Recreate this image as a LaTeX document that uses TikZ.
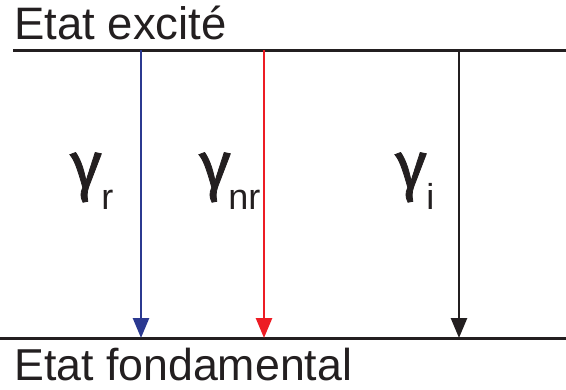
\documentclass[tikz,border=0pt]{standalone}
\usepackage{fontspec}
\setmainfont{Liberation Sans}
\newfontfamily\gammafont[FakeBold=1.2]{Fira Sans}
\usetikzlibrary{arrows.meta}
\definecolor{RadBlue}{HTML}{2B3990}
\definecolor{NonRadRed}{HTML}{ED1C24}
\definecolor{LevelBlack}{HTML}{231F20}

\begin{document}
\begin{tikzpicture}[
  x=1pt, y=-1pt,
  % --- levels and decay arrows ---
  level/.style={draw=LevelBlack, line width=3pt},
  decay/.style={line width=2.6pt, -{Triangle[length=20pt,width=16pt]}},
  lvltext/.style={anchor=base west, inner sep=0pt, text=LevelBlack, font=\fontsize{45.5}{45.5}\selectfont},
  rate/.style={anchor=base west, inner sep=0pt, text=LevelBlack, font=\gammafont\fontsize{66}{66}\selectfont},
  sub/.style={anchor=base west, inner sep=0pt, text=LevelBlack, font=\fontsize{36}{36}\selectfont},
]
\useasboundingbox (0,0) rectangle (566,389);

% =================== LEVELS ===================
\coordinate (exL) at (13,50);
\coordinate (exR) at (566,50);
\coordinate (gsL) at (0,338);
\coordinate (gsR) at (566,338);
\draw[level] (exL) -- (exR);
\draw[level] (gsL) -- (gsR);

\node[lvltext] (exT) at (14,39) {Etat excité};
\node[lvltext, font=\fontsize{44.7}{44.7}\selectfont] (gsT) at (14,380) {Etat fondamental};

% =================== DECAY CHANNELS ===================
\coordinate (rTop) at (141,50);   \coordinate (rBot) at (141,338);
\coordinate (nrTop) at (264,50);  \coordinate (nrBot) at (264,338);
\coordinate (iTop) at (459,50);   \coordinate (iBot) at (459,338);
\draw[decay, RadBlue] (rTop) -- (rBot);
\draw[decay, NonRadRed] (nrTop) -- (nrBot);
\draw[decay, LevelBlack] (iTop) -- (iBot);

% rates
\node[rate] (gR) at (70,188) {γ};
\node[sub] (gRs) at ([xshift=-1pt,yshift=-21pt]gR.base east) {r};
\node[rate] (gNR) at (199,188) {γ};
\node[sub] (gNRs) at ([xshift=-3pt,yshift=-21pt]gNR.base east) {nr};
\node[rate] (gI) at (395,188) {γ};
\node[sub] (gIs) at ([xshift=-1pt,yshift=-21pt]gI.base east) {i};

\end{tikzpicture}
\end{document}
